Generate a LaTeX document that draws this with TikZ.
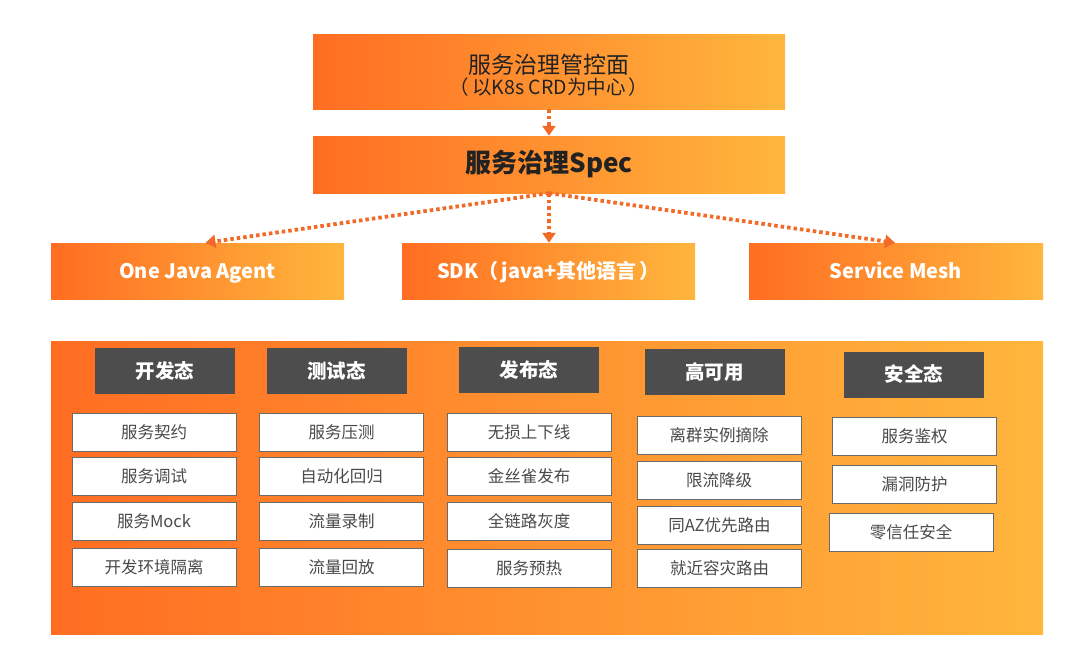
\documentclass[tikz,border=0pt]{standalone}
\usepackage{fontspec}
\setmainfont{Noto Sans CJK SC}
\usetikzlibrary{arrows.meta,calc}
\definecolor{orL}{HTML}{FF6D22}
\definecolor{orR}{HTML}{FFB63D}
\definecolor{arr}{HTML}{F26A28}
\definecolor{hdr}{HTML}{4D4D4D}
\definecolor{txt}{HTML}{222222}
\definecolor{itxt}{HTML}{4A4A4A}
\definecolor{ibrd}{HTML}{6A6A6A}
\tikzset{
  grad/.style={shading=axis, left color=orL, right color=orR, draw=none, inner sep=0pt},
  topbox/.style={grad, minimum width=472pt},
  midbox/.style={grad, minimum width=293pt, minimum height=56pt, text height=17pt, text depth=2.6pt, text=white, font=\fontsize{20}{22}\selectfont\bfseries},
  hdrbox/.style={fill=hdr, draw=none, minimum width=140pt, minimum height=46pt, inner sep=0pt, text=white, font=\fontsize{19.5}{20}\selectfont\bfseries},
  item/.style={fill=white, draw=ibrd, line width=0.9pt, minimum width=164pt, minimum height=38pt, inner sep=0pt, text height=14pt, text depth=1.8pt, text=itxt, font=\fontsize{16.5}{18}\selectfont},
  conn/.style={draw=arr, line width=3.8pt, dash pattern=on 3.5pt off 3pt, -{Triangle[width=13pt,length=10pt]}},
}
\begin{document}
\begin{tikzpicture}[x=1pt,y=-1pt]
\useasboundingbox (0,0) rectangle (1080,664);
% top boxes
\node[topbox, minimum height=75pt] (ctrl) at (549,71.5) {};
\node[text=txt, align=center, inner sep=0pt] (ctrltxt) at (549,75)
  {{\fontsize{23}{27}\selectfont 服务治理管控面}\\[1.5pt]{\fontsize{19.5}{24}\selectfont （\,以K8s CRD为中心\,）}};
\node[topbox, minimum height=57pt, text=txt, font=\fontsize{26}{28}\selectfont\bfseries] (spec) at (549,164.5) {服务治理Spec};
% middle row
\node[midbox] (oja) at (197.5,271) {One Java Agent};
\node[midbox] (sdk) at (548.5,271) {SDK（\,java+其他语言\,）};
\node[midbox, minimum width=294pt] (mesh) at (896,271) {Service Mesh};
% connectors
\draw[conn] (ctrl.south) -- (spec.north);
\draw[conn] (spec.south) -- ([xshift=8pt]oja.north);
\draw[conn] (spec.south) -- (sdk.north -| spec.south);
\draw[conn] (spec.south) -- ([xshift=-1pt]mesh.north);
% big panel
\node[grad, minimum width=992pt, minimum height=293pt] (panel) at (547,487.5) {};
% headers
\node[hdrbox] (h1) at (165,371) {开发态};
\node[hdrbox] (h2) at (336.5,371) {测试态};
\node[hdrbox] (h3) at (529,370) {发布态};
\node[hdrbox] (h4) at (714.5,372) {高可用};
\node[hdrbox] (h5) at (914,374.5) {安全态};
% column 1
\node[item] (a1) at (154,432) {服务契约};
\node[item] (a2) at (154,476.5) {服务调试};
\node[item] (a3) at (154,521.5) {服务Mock};
\node[item] (a4) at (154,567) {开发环境隔离};
% column 2
\node[item] (b1) at (341.5,432) {服务压测};
\node[item] (b2) at (341.5,476.5) {自动化回归};
\node[item] (b3) at (341.5,521.5) {流量录制};
\node[item] (b4) at (341.5,567) {流量回放};
% column 3
\node[item] (c1) at (529,432) {无损上下线};
\node[item] (c2) at (529,476.5) {金丝雀发布};
\node[item] (c3) at (529,521.5) {全链路灰度};
\node[item] (c4) at (529,568) {服务预热};
% column 4
\node[item] (d1) at (719,435) {离群实例摘除};
\node[item] (d2) at (719,480.5) {限流降级};
\node[item] (d3) at (719.5,525.5) {同AZ优先路由};
\node[item] (d4) at (719.5,568.5) {就近容灾路由};
% column 5
\node[item] (e1) at (914.5,436.5) {服务鉴权};
\node[item] (e2) at (914.5,484) {漏洞防护};
\node[item] (e3) at (911,532) {零信任安全};
\end{tikzpicture}
\end{document}
